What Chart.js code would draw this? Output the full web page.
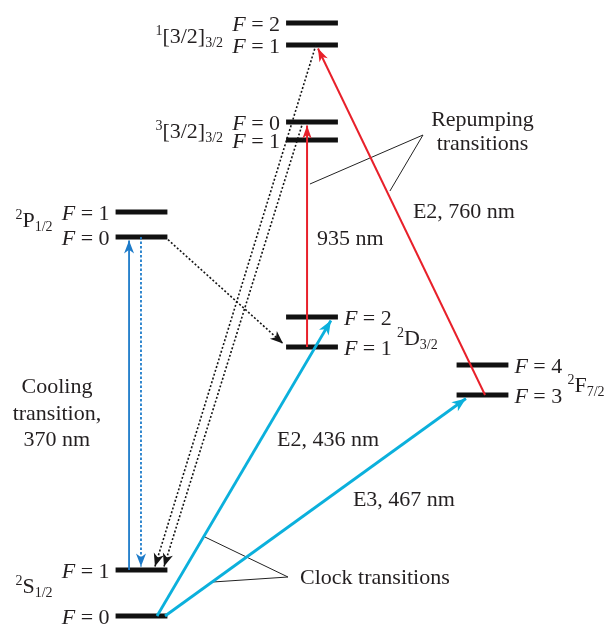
<!DOCTYPE html>
<html>
<head>
<meta charset="utf-8">
<script src="https://cdn.jsdelivr.net/npm/chart.js@4"></script>
<style>
  html, body { margin: 0; padding: 0; background: #fff; }
  canvas { display: block; }
</style>
</head>
<body>
<canvas id="diagram" width="608" height="624"></canvas>
<script>
// ---- Levels (energies in arbitrary, not-to-scale diagram units) ----
const levelIds    = ['S0', 'S1', 'P0', 'P1', 'D1', 'D2', 'F3', 'F4', 'B3_1', 'B3_0', 'B1_1', 'B1_2'];
const levelTerm   = ['S',  'S',  'P',  'P',  'D',  'D',  'F',  'F',  'B3',   'B3',   'B1',   'B1'];
const levelF      = [0, 1, 0, 1, 1, 2, 3, 4, 1, 0, 1, 2];
const levelEnergy = [0, 46, 379, 404, 269, 299, 221, 251, 476, 494, 571, 593];

// ---- Fine-structure terms ----
const termIds   = ['S', 'P', 'D', 'F', 'B3', 'B1'];
const termNames = [
  [['2', 'sup'], ['S'], ['1/2', 'sub']],
  [['2', 'sup'], ['P'], ['1/2', 'sub']],
  [['2', 'sup'], ['D'], ['3/2', 'sub']],
  [['2', 'sup'], ['F'], ['7/2', 'sub']],
  [['3', 'sup'], ['[3/2]'], ['3/2', 'sub']],
  [['1', 'sup'], ['[3/2]'], ['3/2', 'sub']]
];

// ---- Transitions ----
const transFrom = ['S1', 'P0', 'P0', 'B1_1', 'B3_0', 'D1', 'F3', 'S0', 'S0'];
const transTo   = ['P0', 'S1', 'D1', 'S1', 'S1', 'B3_0', 'B1_1', 'D2', 'F3'];
const transKind = ['cooling', 'coolingDecay', 'decay', 'decay', 'decay', 'repump', 'repump', 'clock', 'clock'];

// ---- Text annotations ----
const noteTexts = ['Repumping', 'transitions', 'E2, 760 nm', '935 nm', 'E2, 436 nm', 'E3, 467 nm',
                   'Clock transitions', 'Cooling', 'transition,', '370 nm'];

// ---- Layout (column per term, label placement, arrow attachment points) ----
const termColumn  = { S: 0, P: 0, D: 1, F: 2, B3: 1, B1: 1 };
const termSide    = { S: 'left', P: 'left', D: 'right', F: 'right', B3: 'left', B1: 'left' };
const termLabelDy = { S: 0, P: -2.5, D: -13, F: -12, B3: -7, B1: -9 };
const barHalf = 0.152;
const transFromDx = [-0.073, -0.003, 0.138, 0.023, -0.053, -0.029, 0.015, 0.091, 0.138];
const transToDx   = [-0.073, -0.003, -0.170, 0.079, 0.132, -0.029, 0.035, 0.111, -0.097];
const noteX     = [2.0, 2.0, 1.592, 1.030, 0.795, 1.240, 0.930, -0.496, -0.496, -0.496];
const noteY     = [490, 466, 398, 371, 170, 110, 32, 223, 196, 170];
const noteAlign = ['center', 'center', 'left', 'left', 'left', 'left', 'left', 'center', 'center', 'center'];
const calloutLines = [
  [[1.651, 481], [0.988, 432]],
  [[1.651, 481], [1.457, 425]],
  [[0.859, 39], [0.372, 79]],
  [[0.859, 39], [0.419, 34]]
];

// ---- Styles ----
const SERIF = "'Liberation Serif', 'Times New Roman', serif";
const kindStyle = {
  cooling:      { color: '#1d7bc9', width: 1.8, dash: [],       head: [13, 5] },
  coolingDecay: { color: '#1d7bc9', width: 1.8, dash: [2.5, 2], head: [13, 5] },
  decay:        { color: '#151515', width: 1.6, dash: [2, 2],   head: [13, 5.2] },
  repump:       { color: '#e8202a', width: 2.0, dash: [],       head: [13, 4.6] },
  clock:        { color: '#0bb0dc', width: 2.8, dash: [],       head: [14, 5.6] }
};
const tipGap = 3.5;

const idx = id => levelIds.indexOf(id);

// ---- Datasets ----
const datasets = [];

levelIds.forEach((id, i) => {
  const col = termColumn[levelTerm[i]];
  datasets.push({
    kind: 'level', levelIndex: i,
    data: [{ x: col - barHalf, y: levelEnergy[i] }, { x: col + barHalf, y: levelEnergy[i] }],
    borderColor: '#111', borderWidth: 5, borderCapStyle: 'butt',
    showLine: true, pointRadius: 0, order: 2
  });
});

transFrom.forEach((from, i) => {
  const a = idx(from), b = idx(transTo[i]);
  const ea = levelEnergy[a], eb = levelEnergy[b];
  const up = eb > ea;
  const st = kindStyle[transKind[i]];
  datasets.push({
    kind: 'transition', style: st,
    data: [
      { x: termColumn[levelTerm[a]] + transFromDx[i], y: ea },
      { x: termColumn[levelTerm[b]] + transToDx[i], y: up ? eb - tipGap : eb + tipGap }
    ],
    borderColor: st.color, borderWidth: st.width, borderDash: st.dash, borderCapStyle: 'butt',
    showLine: true, pointRadius: 0, order: 1
  });
});

calloutLines.forEach(seg => {
  datasets.push({
    kind: 'callout',
    data: seg.map(p => ({ x: p[0], y: p[1] })),
    borderColor: '#222', borderWidth: 1,
    showLine: true, pointRadius: 0, order: 1
  });
});

// ---- Text helpers ----
function partFont(style) {
  if (style === 'sup' || style === 'sub') return '14px ' + SERIF;
  if (style === 'it') return 'italic 22px ' + SERIF;
  return '22px ' + SERIF;
}
function richWidth(ctx, parts) {
  let w = 0;
  parts.forEach(p => { ctx.font = partFont(p[1]); w += ctx.measureText(p[0]).width; });
  return w;
}
function drawRich(ctx, parts, x, baseline, align) {
  const w = richWidth(ctx, parts);
  let cx = align === 'right' ? x - w : align === 'center' ? x - w / 2 : x;
  ctx.textAlign = 'left';
  ctx.textBaseline = 'alphabetic';
  parts.forEach(p => {
    ctx.font = partFont(p[1]);
    const dy = p[1] === 'sup' ? -8 : p[1] === 'sub' ? 4 : 0;
    ctx.fillText(p[0], cx, baseline + dy);
    cx += ctx.measureText(p[0]).width;
  });
}

// ---- Plugin: arrowheads and all text ----
const diagramPlugin = {
  id: 'levelDiagram',
  afterDatasetsDraw(chart) {
    const ctx = chart.ctx;
    const xs = chart.scales.x, ys = chart.scales.y;
    ctx.save();

    // arrowheads
    chart.data.datasets.forEach((ds, i) => {
      if (ds.kind !== 'transition') return;
      const pts = chart.getDatasetMeta(i).data;
      const p1 = pts[pts.length - 1], p0 = pts[pts.length - 2];
      const ang = Math.atan2(p1.y - p0.y, p1.x - p0.x);
      const [len, half] = ds.style.head;
      ctx.save();
      ctx.translate(p1.x, p1.y);
      ctx.rotate(ang);
      ctx.beginPath();
      ctx.moveTo(0, 0);
      ctx.lineTo(-len, -half);
      ctx.lineTo(-len * 0.72, 0);
      ctx.lineTo(-len, half);
      ctx.closePath();
      ctx.fillStyle = ds.style.color;
      ctx.fill();
      ctx.restore();
    });

    ctx.fillStyle = '#231f20';

    // hyperfine labels
    levelIds.forEach((id, i) => {
      const t = levelTerm[i];
      const col = termColumn[t];
      const y = ys.getPixelForValue(levelEnergy[i]) + 7.5;
      const parts = [['F', 'it'], [' = ' + levelF[i]]];
      if (termSide[t] === 'left') {
        drawRich(ctx, parts, xs.getPixelForValue(col - barHalf) - 6, y, 'right');
      } else {
        drawRich(ctx, parts, xs.getPixelForValue(col + barHalf) + 6, y, 'left');
      }
    });

    // term labels
    termIds.forEach((t, k) => {
      const es = levelEnergy.filter((e, i) => levelTerm[i] === t);
      const mid = (Math.min(...es) + Math.max(...es)) / 2;
      const y = ys.getPixelForValue(mid + termLabelDy[t]);
      const col = termColumn[t];
      if (termSide[t] === 'left') {
        drawRich(ctx, termNames[k], xs.getPixelForValue(col - barHalf) - 63, y, 'right');
      } else {
        drawRich(ctx, termNames[k], xs.getPixelForValue(col + barHalf) + 59, y, 'left');
      }
    });

    // annotations
    noteTexts.forEach((txt, k) => {
      drawRich(ctx, [[txt]], xs.getPixelForValue(noteX[k]), ys.getPixelForValue(noteY[k]), noteAlign[k]);
    });

    ctx.restore();
  }
};

new Chart(document.getElementById('diagram'), {
  type: 'scatter',
  data: { datasets },
  options: {
    responsive: false,
    animation: false,
    events: [],
    layout: { padding: 0 },
    plugins: { legend: { display: false }, tooltip: { enabled: false } },
    scales: {
      x: { type: 'linear', min: -0.8299, max: 2.7361, display: false },
      y: { type: 'linear', min: -8, max: 616, display: false }
    }
  },
  plugins: [diagramPlugin]
});
</script>
</body>
</html>
